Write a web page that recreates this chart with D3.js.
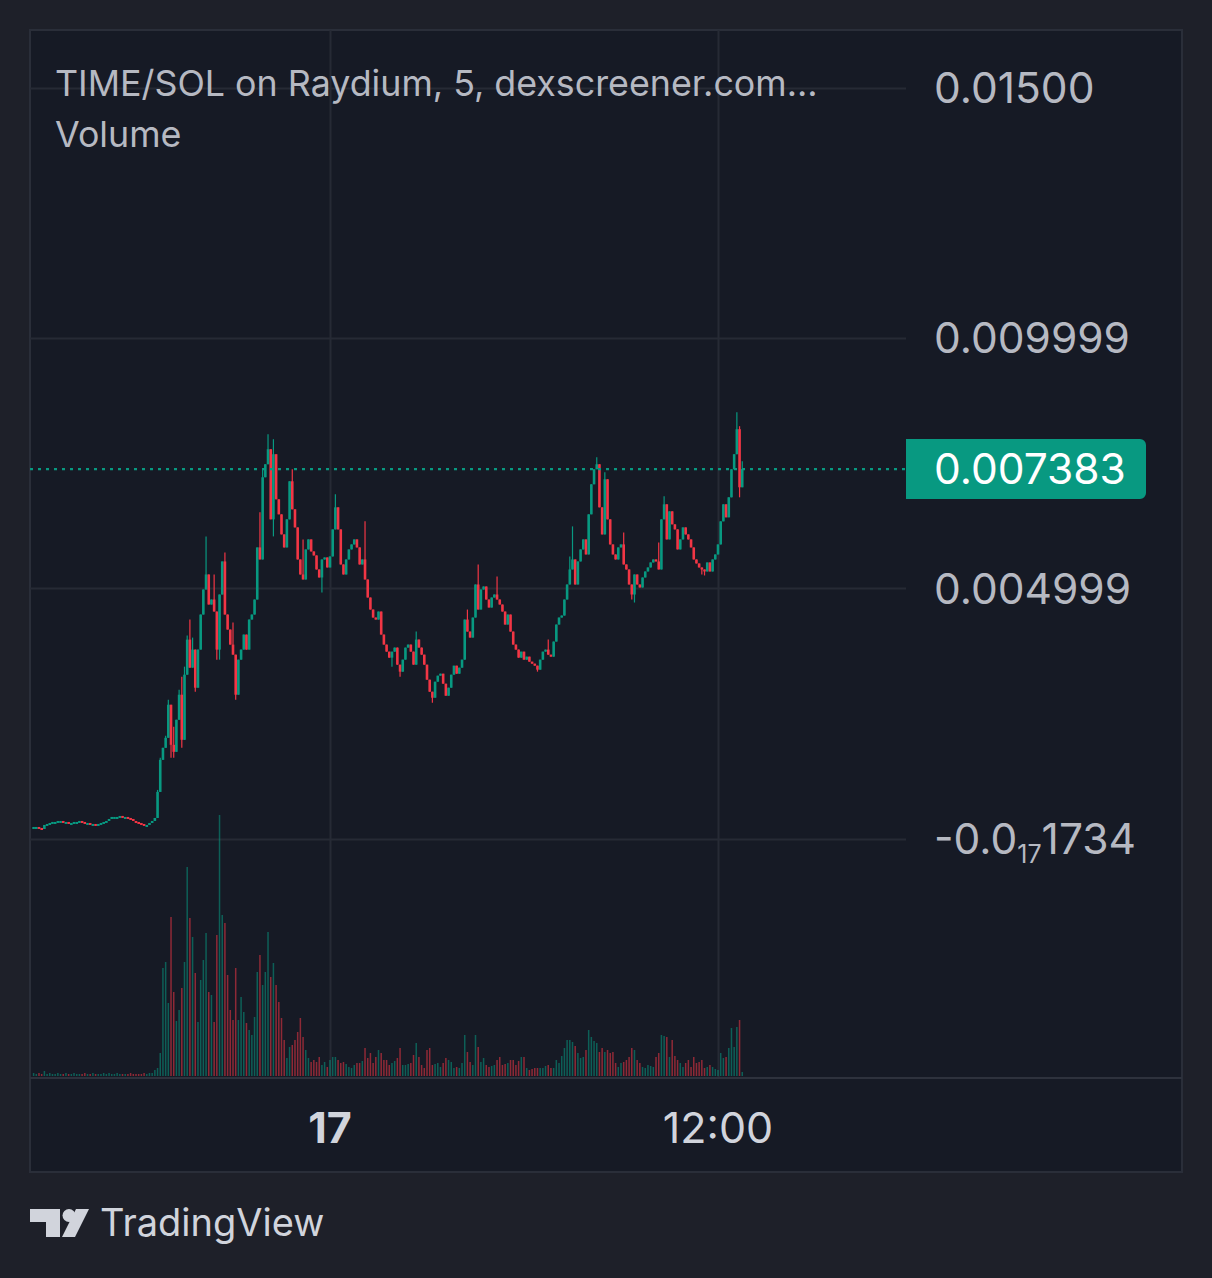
<!DOCTYPE html>
<html>
<head>
<meta charset="utf-8">
<script src="https://cdn.jsdelivr.net/npm/d3@7"></script>
<style>
  body { margin: 0; background: #1e2029; }
  svg { display: block; }
  text { font-family: Inter, "Open Sans", "DejaVu Sans", sans-serif; }
</style>
</head>
<body>
<div id="chart"></div>
<script>
(function () {

  // prices are written in millionths of SOL, 5 minute candles
  var PRICE_UNIT = 1e-6;
  var START = Date.UTC(2024, 0, 16, 14, 50);
  var STEP = 5 * 60 * 1000;

  var closes = [
    240,240,220,200,280,300,320,340,340,360, 360,340,340,320,320,340,340,360,340,320,
    320,300,300,280,300,320,340,360,400,440, 440,440,460,440,440,420,400,360,340,320,
    300,280,280,320,360,
    420,940,1580,1820,2020,2680,1880,1740,2380,2880,
    1980,3280,3980,3420,3780,3020,3780,4480,4980,5280,
    4680,4780,4540,3780,4880,5540,4480,4180,3880,3680,
    2880,3580,3780,4080,3780,4380,4480,4780,5820,5580,
    7220,7480,7780,6380,7680,6780,6480,6080,5820,6380,
    7140,6580,6220,5580,5280,5180,5780,5980,5740,5660,
    5380,5220,5580,5620,5420,5640,6180,6620,6180,5480,
    5280,5580,5780,5880,5980,5820,5480,5580,5180,4820,
    4580,4420,4380,4540,4080,3880,3740,3620,3740,3820,
    3480,3340,3580,3820,3880,3740,3480,3980,3820,3680,
    3480,3180,2940,2820,3140,3260,3300,3100,2860,3020,
    3280,3460,3300,3420,3580,4380,4140,4020,4420,5080,
    4580,4980,5040,4780,4620,4820,4880,4780,4680,4540,
    4280,4480,4140,3880,3780,3620,3740,3580,3640,3540,
    3500,3460,3380,3580,3740,3780,3680,3640,3940,4280,
    4420,4460,4780,5080,5380,5580,5080,5540,5780,5980,
    5680,6480,7080,7380,7480,6620,6080,7180,6380,5880,
    5680,5580,5820,5880,5480,5380,5080,4880,5280,5080,
    5020,5220,5340,5420,5520,5580,5540,5380,6380,6680,
    5980,6540,6280,6180,5780,5980,6220,6080,5980,5820,
    5580,5500,5420,5380,5340,5520,5340,5580,5680,5880,
    6340,6680,6420,6820,7380,7680,8180,7020,7383
  ];

  // [candle index, wick end] where a wick sticks out of the body
  var highWicks = [
    [46,980],[47,1620],[49,2060],[50,2780],[52,2240],[54,2980],[55,3240],[56,3440],
    [57,4060],[58,4380],[59,4020],[64,6040],[67,5280],[71,5720],[74,4320],[84,6520],
    [85,7380],[87,8080],[89,7980],[96,7380],[100,5980],[112,6880],[123,6340],[142,4140],
    [161,4580],[165,5480],[172,5240],[191,3980],[199,5640],[200,6240],[209,7620],
    [212,7320],[219,6120],[232,5920],[234,6840],[261,8520],[262,8240],[263,7540]
  ];
  var lowWicks = [
    [51,1620],[52,1620],[55,1820],[60,2940],[68,3580],[69,3580],[75,2780],[89,6040],
    [107,4920],[133,3440],[136,3240],[148,2720],[187,3340],[222,4780],[223,4720],
    [248,5280],[249,5260],[262,6820]
  ];

  var volumes = [
    3,2,3,2,5,2,3,2,2,3, 2,2,3,2,2,3,2,2,2,3, 2,2,3,2,2,2,3,2,3,2,
    2,3,2,2,2,2,3,2,2,2, 2,3,2,3,3,
    6,8,
    23,108,114,73,159,84,55,66,88,114,
    209,158,139,103,54,96,116,143,84,81,
    54,141,261,161,153,101,66,56,108,56,
    79,64,53,46,41,59,104,121,91,104,
    144,99,113,91,74,58,36,18,29,31,
    36,44,58,39,26,18,14,16,14,19,
    11,14,9,16,
    19,19,16,13,14,12,9,8,11,13,
    13,15,28,18,23,13,19,26,23,16,
    16,11,13,15,18,28,11,11,12,13,
    21,33,19,11,8,26,28,11,12,13,
    9,13,18,16,14,8,9,8,13,41,
    24,14,11,41,29,14,18,11,9,10,
    11,16,19,11,12,13,16,16,11,15,
    19,19,8,6,7,8,8,8,8,10,
    11,8,8,16,13,20,28,36,36,34,
    30,23,18,19,26,46,39,35,33,24,
    28,24,26,23,24,13,9,13,14,16,
    19,28,26,16,13,9,8,11,10,9,
    19,23,41,40,39,19,36,20,16,13,
    9,13,16,9,19,13,14,16,8,9,
    11,9,7,6,23,18,19,28,48,29,
    49,56,4
  ];

  var priceTicks = [0.015, 0.01, 0.005, 0];
  var priceTickLabels = ["0.01500", "0.009999", "0.004999", "-0.0_17_1734"];
  var timeTicks = [Date.UTC(2024, 0, 17, 0, 0), Date.UTC(2024, 0, 17, 12, 0)];
  var timeTickLabels = ["17", "12:00"];
  var lastPrice = 0.007383;
  var title = "TIME/SOL on Raydium, 5, dexscreener.com...";

  var up_color = "#089981";
  var down_color = "#f23645";
  var grid_color = "#262a35";
  var text_color = "#b6b9c2";

  var width = 1212, height = 1278;
  var pane = { left: 30, right: 906, top: 30, bottom: 1078 };

  var hi = {}, lo = {};
  highWicks.forEach(function (w) { hi[w[0]] = w[1]; });
  lowWicks.forEach(function (w) { lo[w[0]] = w[1]; });

  var candles = closes.map(function (c, i) {
    var o = i > 0 ? closes[i - 1] : c;
    return {
      t: new Date(START + i * STEP),
      o: o * PRICE_UNIT,
      c: c * PRICE_UNIT,
      h: Math.max(o, c, hi[i] || 0) * PRICE_UNIT,
      l: Math.min(o, c, lo[i] || Infinity) * PRICE_UNIT,
      v: volumes[i]
    };
  });

  var x = d3.scaleUtc().domain(timeTicks).range([330, 718]);
  var y = d3.scaleLinear().domain([0, 0.015]).range([839, 87.5]);
  var vy = d3.scaleLinear().domain([0, d3.max(volumes)]).range([1076, 815]);

  var svg = d3.select("#chart").append("svg")
    .attr("width", width)
    .attr("height", height);

  svg.append("rect")
    .attr("width", width).attr("height", height)
    .attr("fill", "#1e2029");

  svg.append("defs").append("clipPath").attr("id", "paneClip")
    .append("rect")
    .attr("x", pane.left).attr("y", pane.top)
    .attr("width", pane.right - pane.left).attr("height", pane.bottom - pane.top);

  // chart box
  svg.append("rect")
    .attr("x", 30).attr("y", 30).attr("width", 1152).attr("height", 1142)
    .attr("fill", "#161a25")
    .attr("stroke", "#2a2e39")
    .attr("stroke-width", 2);

  // grid
  svg.append("g").selectAll("line")
    .data(priceTicks)
    .enter().append("line")
      .attr("x1", pane.left).attr("x2", pane.right)
      .attr("y1", function (d) { return Math.round(y(d)) + 0.5; })
      .attr("y2", function (d) { return Math.round(y(d)) + 0.5; })
      .attr("stroke", grid_color).attr("stroke-width", 2);

  svg.append("g").selectAll("line")
    .data(timeTicks)
    .enter().append("line")
      .attr("x1", function (d) { return Math.round(x(d)) + 0.5; })
      .attr("x2", function (d) { return Math.round(x(d)) + 0.5; })
      .attr("y1", pane.top).attr("y2", pane.bottom)
      .attr("stroke", grid_color).attr("stroke-width", 2);

  svg.append("line")
    .attr("x1", 30).attr("x2", 1182)
    .attr("y1", pane.bottom).attr("y2", pane.bottom)
    .attr("stroke", "#2e323d").attr("stroke-width", 2);

  var plot = svg.append("g").attr("clip-path", "url(#paneClip)");

  // volume
  plot.append("g").selectAll("rect")
    .data(candles)
    .enter().append("rect")
      .attr("x", function (d) { return x(d.t) - 0.75; })
      .attr("width", 1.5)
      .attr("y", function (d) { return vy(d.v); })
      .attr("height", function (d) { return vy(0) - vy(d.v); })
      .attr("fill", function (d) { return d.c >= d.o ? up_color : down_color; })
      .attr("fill-opacity", 0.55);

  // candles
  var candle = plot.append("g").selectAll("g")
    .data(candles)
    .enter().append("g")
      .attr("fill", function (d) { return d.c >= d.o ? up_color : down_color; })
      .attr("stroke", function (d) { return d.c >= d.o ? up_color : down_color; });

  candle.append("line")
    .attr("x1", function (d) { return x(d.t); })
    .attr("x2", function (d) { return x(d.t); })
    .attr("y1", function (d) { return y(d.h); })
    .attr("y2", function (d) { return y(d.l); })
    .attr("stroke-width", 1.2);

  candle.append("rect")
    .attr("stroke", "none")
    .attr("x", function (d) { return x(d.t) - 1.3; })
    .attr("width", 2.6)
    .attr("y", function (d) { return y(Math.max(d.o, d.c)); })
    .attr("height", function (d) { return Math.max(2, Math.abs(y(d.o) - y(d.c))); });

  // last price line
  plot.append("line")
    .attr("x1", pane.left).attr("x2", pane.right)
    .attr("y1", y(lastPrice)).attr("y2", y(lastPrice))
    .attr("stroke", up_color)
    .attr("stroke-width", 2.2)
    .attr("stroke-dasharray", "3,5");

  // title / legend
  svg.append("text")
    .attr("x", 55).attr("y", 96)
    .attr("font-size", 35.8)
    .attr("fill", text_color)
    .text(title);

  svg.append("text")
    .attr("x", 55).attr("y", 147)
    .attr("font-size", 35.8)
    .attr("fill", text_color)
    .text("Volume");

  // price axis labels, "_17_" marks the subscript zero count
  var plabels = svg.append("g").selectAll("text")
    .data(priceTicks)
    .enter().append("text")
      .attr("x", 934)
      .attr("y", function (d) { return y(d); })
      .attr("dy", "0.36em")
      .attr("font-size", 42.5)
      .attr("fill", text_color);

  plabels.each(function (d, i) {
    var parts = priceTickLabels[i].split("_");
    var t = d3.select(this);
    t.append("tspan").text(parts[0]);
    if (parts.length > 1) {
      t.append("tspan").attr("font-size", 25).attr("dy", 9).text(parts[1]);
      t.append("tspan").attr("dy", -9).text(parts[2]);
    }
  });

  // last price badge
  var ly = y(lastPrice);
  svg.append("path")
    .attr("d", "M906," + (ly - 30) + "H1140a6,6 0 0 1 6,6V" + (ly + 24) +
      "a6,6 0 0 1 -6,6H906Z")
    .attr("fill", up_color);
  svg.append("text")
    .attr("x", 934).attr("y", ly)
    .attr("dy", "0.36em")
    .attr("font-size", 42.5)
    .attr("fill", "#ffffff")
    .text(d3.format(".6f")(lastPrice));

  // time axis
  svg.append("g").selectAll("text")
    .data(timeTicks)
    .enter().append("text")
      .attr("x", function (d) { return x(d); })
      .attr("y", 1128)
      .attr("dy", "0.36em")
      .attr("text-anchor", "middle")
      .attr("font-size", 43)
      .attr("font-weight", function (d, i) { return i == 0 ? 700 : 400; })
      .attr("fill", "#d1d4dc")
      .text(function (d, i) { return timeTickLabels[i]; });

  // TradingView logo
  var logo = svg.append("g").attr("fill", "#d1d4dc");
  logo.append("path").attr("d", "M30,1209H60V1237H46V1222H30Z");
  logo.append("circle").attr("cx", 69).attr("cy", 1215.5).attr("r", 6.5);
  logo.append("path").attr("d", "M76,1209H89L75,1237H62Z");
  svg.append("text")
    .attr("x", 100).attr("y", 1236)
    .attr("font-size", 38)
    .attr("fill", "#d1d4dc")
    .text("TradingView");

})();
</script>
</body>
</html>
